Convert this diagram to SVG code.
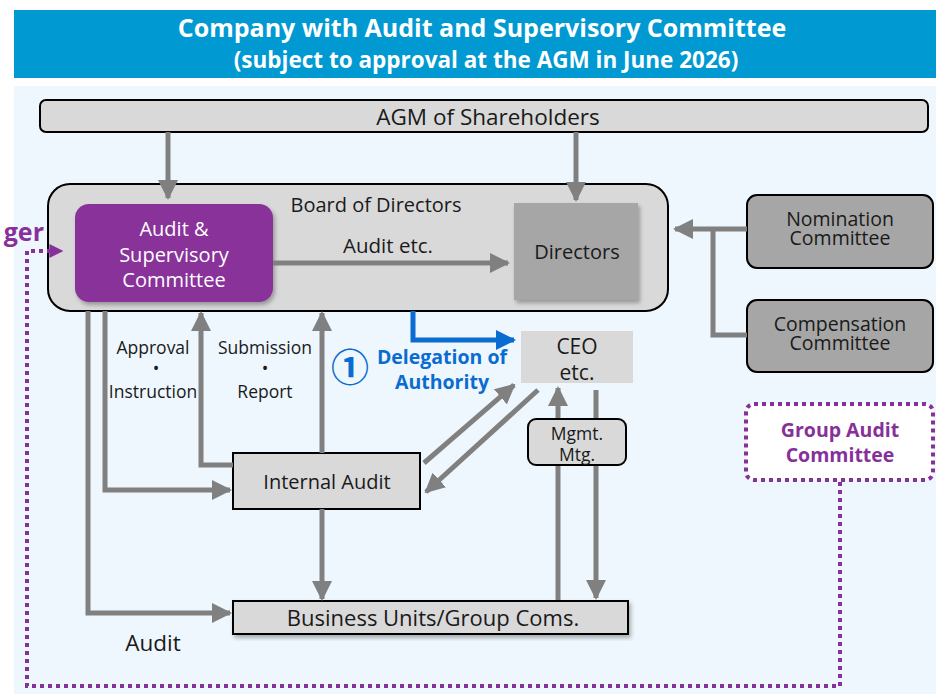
<svg xmlns="http://www.w3.org/2000/svg" width="936" height="694" viewBox="0 0 936 694">
<defs>
<style>
.t{font-family:"Open Sans","Noto Sans","DejaVu Sans",sans-serif;fill:#1a1a1a;text-anchor:middle;}
.w{fill:#fff;}
.hd{font-family:"Open Sans","Noto Sans",sans-serif;font-weight:bold;fill:#fff;text-anchor:middle;}
.box{fill:#D9D9D9;stroke:#000;stroke-width:2;}
.dk{fill:#A6A6A6;stroke:#000;stroke-width:2;}
.ar{fill:none;stroke:#808080;stroke-width:5;}
.pd{fill:none;stroke:#87309A;stroke-width:4;stroke-dasharray:4 4;}
.bl{font-family:"Open Sans","Noto Sans",sans-serif;font-weight:bold;fill:#0A6BD1;text-anchor:middle;}
.pt{font-family:"Open Sans","Noto Sans",sans-serif;font-weight:bold;fill:#87309A;}
</style>
<marker id="ag" viewBox="0 0 10 10" refX="9" refY="5" markerWidth="4" markerHeight="4" orient="auto" markerUnits="strokeWidth"><path d="M0,0 L10,5 L0,10 z" fill="#808080"/></marker>
<marker id="ab" viewBox="0 0 10 10" refX="9" refY="5" markerWidth="4" markerHeight="4" orient="auto" markerUnits="strokeWidth"><path d="M0,0 L10,5 L0,10 z" fill="#0A6BD1"/></marker>
<marker id="ap" viewBox="0 0 10 10" refX="9" refY="5" markerWidth="3.5" markerHeight="3.5" orient="auto" markerUnits="strokeWidth"><path d="M0,0 L10,5 L0,10 z" fill="#87309A"/></marker>
<filter id="sh" x="-10%" y="-10%" width="130%" height="130%"><feDropShadow dx="2" dy="3" stdDeviation="2" flood-color="#000" flood-opacity="0.3"/></filter>
</defs>
<rect x="0" y="0" width="936" height="694" fill="#fff"/>
<g id="header">
<rect x="14" y="10" width="922" height="68" fill="#0099D2"/>
<text class="hd" x="482" y="37" font-size="25">Company with Audit and Supervisory Committee</text>
<text class="hd" x="486" y="68" font-size="22.5">(subject to approval at the AGM in June 2026)</text>
</g>
<rect x="14" y="86" width="922" height="608" fill="#EEF7FD"/>

<g id="agm">
<rect class="box" x="40" y="100" width="888" height="32" rx="6"/>
<text class="t" x="488" y="125" font-size="22.5">AGM of Shareholders</text>
</g>

<g id="board">
<rect class="box" x="48" y="184" width="620" height="127" rx="22"/>
<text class="t" x="376" y="212" font-size="20">Board of Directors</text>
</g>

<g id="asc">
<rect x="75" y="204" width="198" height="98" rx="14" fill="#88319A" filter="url(#sh)"/>
<text class="t w" x="174" y="236" font-size="20" style="fill:#fff">Audit &amp;</text>
<text class="t w" x="174" y="262" font-size="20" style="fill:#fff">Supervisory</text>
<text class="t w" x="174" y="287" font-size="20" style="fill:#fff">Committee</text>
</g>

<g id="directors">
<rect x="514" y="203" width="124" height="97" fill="#A6A6A6" filter="url(#sh)"/>
<text class="t" x="577" y="259" font-size="20">Directors</text>
</g>

<g id="nomination">
<rect class="dk" x="747" y="195" width="186" height="73" rx="10"/>
<text class="t" x="840" y="226" font-size="19.5">Nomination</text>
<text class="t" x="840" y="245" font-size="19.5">Committee</text>
</g>

<g id="compensation">
<rect class="dk" x="747" y="300" width="186" height="72" rx="10"/>
<text class="t" x="840" y="331" font-size="19.5">Compensation</text>
<text class="t" x="840" y="350" font-size="19.5">Committee</text>
</g>

<g id="internal-audit">
<rect class="box" x="233" y="453" width="187" height="56"/>
<text class="t" x="327" y="489" font-size="20">Internal Audit</text>
</g>

<g id="ceo">
<rect x="521" y="331" width="112" height="52" fill="#D9D9D9"/>
<text class="t" x="577" y="354" font-size="21">CEO</text>
<text class="t" x="577" y="380" font-size="21">etc.</text>
</g>

<g id="business-units">
<rect class="box" x="233" y="601" width="395" height="33" filter="url(#sh)"/>
<text class="t" x="433" y="626" font-size="22">Business Units/Group Coms.</text>
</g>

<g id="group-audit">
<rect x="746" y="404" width="187" height="76" rx="8" fill="#fff" stroke="#87309A" stroke-width="4" stroke-dasharray="4 4"/>
<text class="pt" x="840" y="437" font-size="19.5" text-anchor="middle">Group Audit</text>
<text class="pt" x="840" y="462" font-size="19.5" text-anchor="middle">Committee</text>
</g>

<g id="labels">
<text class="t" x="388" y="253" font-size="20.5">Audit etc.</text>
<text class="t" x="153" y="354" font-size="17.5">Approval</text>
<text class="t" x="156" y="375" font-size="17.5">•</text>
<text class="t" x="153" y="398" font-size="17.5">Instruction</text>
<text class="t" x="265" y="354" font-size="17.5">Submission</text>
<text class="t" x="265" y="375" font-size="17.5">•</text>
<text class="t" x="265" y="398" font-size="17.5">Report</text>
<text class="t" x="153" y="651" font-size="22.5">Audit</text>
<text x="350" y="381" font-size="38" font-weight="bold" text-anchor="middle" font-family="Noto Sans CJK JP, DejaVu Sans, sans-serif" fill="#0A6BD1">①</text>
<text class="bl" x="442" y="364" font-size="19.5">Delegation of</text>
<text class="bl" x="442" y="389" font-size="19.5">Authority</text>
<text class="pt" x="44" y="241" font-size="25" text-anchor="end">ger</text>
</g>

<g id="connectors">
<path class="ar" d="M168,132 V198" marker-end="url(#ag)"/>
<path class="ar" d="M576,132 V200" marker-end="url(#ag)"/>
<path class="ar" d="M273,263 H508" marker-end="url(#ag)"/>
<path class="ar" d="M747,229 H675" marker-end="url(#ag)"/>
<path class="ar" d="M747,335 H713 V229"/>
<path class="ar" d="M88,311 V613 H230" marker-end="url(#ag)"/>
<path class="ar" d="M105,311 V490 H230" marker-end="url(#ag)"/>
<path class="ar" d="M233,465 H201 V313" marker-end="url(#ag)"/>
<path class="ar" d="M322,453 V313" marker-end="url(#ag)"/>
<path class="ar" d="M322,509 V599" marker-end="url(#ag)"/>
<path class="ar" d="M424,463 L514,385" marker-end="url(#ag)"/>
<path class="ar" d="M538,390 L426,492" marker-end="url(#ag)"/>
<path class="ar" d="M558,600 V388" marker-end="url(#ag)"/>
<path class="ar" d="M596,390 V598" marker-end="url(#ag)"/>
<path d="M413,311 V340 H514" fill="none" stroke="#0A6BD1" stroke-width="5" marker-end="url(#ab)"/>
<path class="pd" d="M840,482 V686 H27 V251 H62" marker-end="url(#ap)"/>
</g>

<g id="mgmt">
<rect class="box" x="528" y="419" width="98" height="46" rx="8"/>
<text class="t" x="577" y="440" font-size="17.5">Mgmt.</text>
<text class="t" x="577" y="461" font-size="17.5">Mtg.</text>
</g>
</svg>
